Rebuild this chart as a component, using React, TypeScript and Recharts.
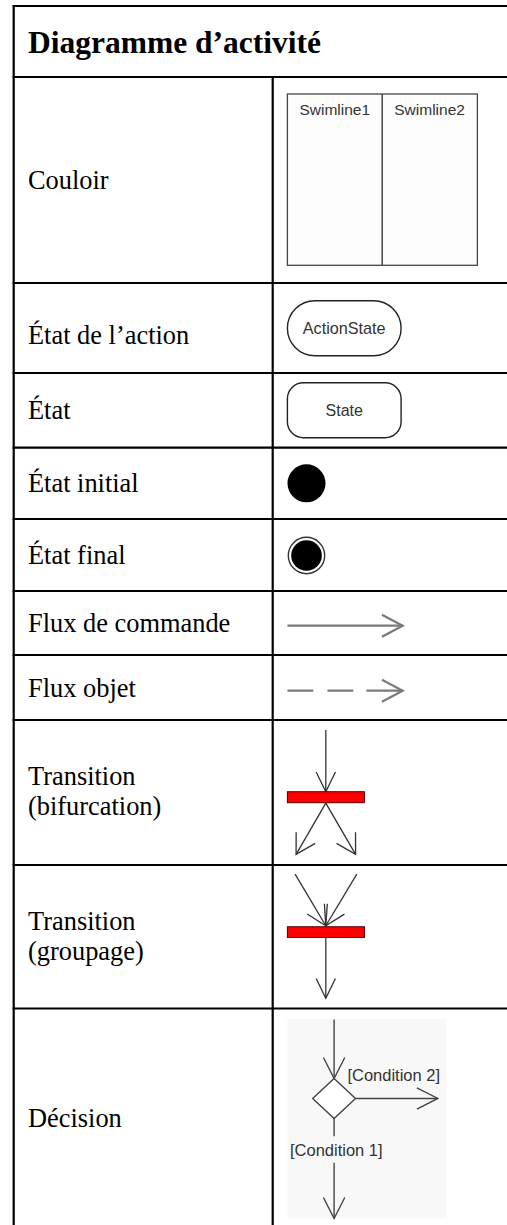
import React from "react";
import { ScatterChart, XAxis, YAxis, Scatter, ReferenceLine } from "recharts";

// ---------- data ----------
const titleText = "Diagramme d’activité";
const rowLabels: string[][] = [
  ["Couloir"],
  ["État de l’action"],
  ["État"],
  ["État initial"],
  ["État final"],
  ["Flux de commande"],
  ["Flux objet"],
  ["Transition", "(bifurcation)"],
  ["Transition", "(groupage)"],
  ["Décision"],
];
const symbolKinds = [
  "swimlane",
  "actionState",
  "state",
  "initial",
  "final",
  "controlFlow",
  "objectFlow",
  "fork",
  "join",
  "decision",
];
const swimlaneNames = ["Swimline1", "Swimline2"];
const actionStateLabel = "ActionState";
const stateLabel = "State";
const decisionLabels = ["[Condition 1]", "[Condition 2]"];

// ---------- layout ----------
const W = 507;
const H = 1225;
const TABLE_LEFT = 13.7;
const TABLE_TOP = 6;
const HEADER_BOTTOM = 77;
const COL_X = 272.7;
const ROW_EDGES = [77, 283, 373, 447.7, 519, 591, 655, 720, 865, 1008.5, 1225];
const TEXT_X = 28;
const SYMBOL_X = 287.4;
const LABEL_SHIFT = [8.5, 16, 8.5, 8.5, 8.5, 8.5, 9, 7.5, 8.3, 10];
const LINE_GAP = 30;
const SERIF = "'Liberation Serif', 'Times New Roman', serif";
const SANS = "'Liberation Sans', Arial, sans-serif";

const rowCenters = rowLabels.map((_, i) => (ROW_EDGES[i] + ROW_EDGES[i + 1]) / 2);

const titleData = [{ x: TEXT_X, y: (TABLE_TOP + HEADER_BOTTOM) / 2 + 11.2, text: titleText }];
const labelData = rowLabels.map((lines, i) => ({ x: TEXT_X, y: rowCenters[i], lines, shift: LABEL_SHIFT[i] }));
const symbolData = symbolKinds.map((kind, i) => ({ x: SYMBOL_X, y: rowCenters[i], kind }));

// ---------- helpers ----------
function arrowPath(tx: number, ty: number, fromX: number, fromY: number, len: number, spread: number) {
  const ang = Math.atan2(ty - fromY, tx - fromX) + Math.PI;
  const s = (spread * Math.PI) / 180;
  const a1 = ang + s;
  const a2 = ang - s;
  return `M${tx + len * Math.cos(a1)},${ty + len * Math.sin(a1)} L${tx},${ty} L${tx + len * Math.cos(a2)},${ty + len * Math.sin(a2)}`;
}

const DARK = "#333";
const GRAY = "#7a7a7a";

function renderTitle(props: any) {
  const { cx, cy, payload } = props;
  return (
    <text x={cx} y={cy} fontFamily={SERIF} fontWeight="bold" fontSize={31.5} fill="#000">
      {payload.text}
    </text>
  );
}

function renderLabel(props: any) {
  const { cx, cy, payload } = props;
  const n = payload.lines.length;
  return (
    <g>
      {payload.lines.map((line: string, j: number) => (
        <text
          key={j}
          x={cx}
          y={cy + payload.shift + (j - (n - 1) / 2) * LINE_GAP}
          fontFamily={SERIF}
          fontSize={26.4}
          fill="#000"
        >
          {line}
        </text>
      ))}
    </g>
  );
}

function renderSymbol(props: any) {
  const { cx, cy, payload } = props;
  const kind = payload.kind;
  if (kind === "swimlane") {
    const top = cy - 86;
    const w = 190;
    const h = 171.3;
    return (
      <g>
        <rect x={cx} y={top} width={w} height={h} fill="#fdfdfd" stroke="#444" strokeWidth={1.3} />
        <line x1={cx + 94.8} y1={top} x2={cx + 94.8} y2={top + h} stroke="#444" strokeWidth={1.5} />
        {swimlaneNames.map((name, j) => (
          <text
            key={j}
            x={cx + 47.4 + j * 94.8}
            y={cy - 65}
            textAnchor="middle"
            fontFamily={SANS}
            fontSize={15.5}
            fill={DARK}
          >
            {name}
          </text>
        ))}
      </g>
    );
  }
  if (kind === "actionState" || kind === "state") {
    const isAction = kind === "actionState";
    const top = isAction ? cy - 27.3 : cy - 27.6;
    return (
      <g>
        <rect
          x={cx}
          y={top}
          width={113.7}
          height={55}
          rx={isAction ? 27.5 : 16}
          ry={isAction ? 27.5 : 16}
          fill="#fff"
          stroke="#222"
          strokeWidth={1.4}
        />
        <text
          x={cx + 56.8}
          y={top + 27.5 + 5.3}
          textAnchor="middle"
          fontFamily={SANS}
          fontSize={isAction ? 16.2 : 16}
          fill={DARK}
        >
          {isAction ? actionStateLabel : stateLabel}
        </text>
      </g>
    );
  }
  if (kind === "initial") {
    return <circle cx={cx + 19.1} cy={cy} r={19} fill="#000" />;
  }
  if (kind === "final") {
    return (
      <g>
        <circle cx={cx + 19.1} cy={cy + 0.5} r={18.2} fill="#fff" stroke="#333" strokeWidth={1.4} />
        <circle cx={cx + 19.1} cy={cy + 0.5} r={15.3} fill="#000" />
      </g>
    );
  }
  if (kind === "controlFlow" || kind === "objectFlow") {
    const y = kind === "controlFlow" ? cy + 2.7 : cy + 3.2;
    const tip = cx + 115.3;
    return (
      <g fill="none" stroke={GRAY} strokeWidth={2.2}>
        {kind === "controlFlow" ? (
          <line x1={cx} y1={y} x2={tip} y2={y} />
        ) : (
          <g>
            <line x1={cx} y1={y} x2={cx + 66} y2={y} strokeDasharray="26 14" />
            <line x1={cx + 79} y1={y} x2={tip} y2={y} />
          </g>
        )}
        <path d={arrowPath(tip, y, cx, y, 23.5, 28)} />
      </g>
    );
  }
  if (kind === "fork") {
    const mx = cx + 38.4;
    const barTop = cy - 0.8;
    const inTop = cy - 62.5;
    const inTip = barTop;
    const outStart = barTop + 11.5;
    const lt = { x: cx + 8.7, y: cy + 61.8 };
    const rt = { x: cx + 68.2, y: cy + 61.8 };
    return (
      <g fill="none" stroke={DARK} strokeWidth={1.3}>
        <line x1={mx} y1={inTop} x2={mx} y2={inTip} />
        <path d={arrowPath(mx, inTip, mx, inTop, 22, 26)} />
        <line x1={mx} y1={outStart} x2={lt.x} y2={lt.y} />
        <line x1={mx} y1={outStart} x2={rt.x} y2={rt.y} />
        <path d={arrowPath(lt.x, lt.y, mx, outStart, 22, 30)} />
        <path d={arrowPath(rt.x, rt.y, mx, outStart, 22, 30)} />
        <rect x={cx} y={barTop} width={77} height={11} fill="#ff0000" stroke="#500" strokeWidth={1} />
      </g>
    );
  }
  if (kind === "join") {
    const mx = cx + 38.4;
    const barTop = cy - 10;
    const tipY = barTop - 1;
    const l0 = { x: cx + 7.7, y: cy - 62.7 };
    const r0 = { x: cx + 69.4, y: cy - 62.7 };
    const outTip = cy + 61.5;
    return (
      <g fill="none" stroke={DARK} strokeWidth={1.3}>
        <line x1={l0.x} y1={l0.y} x2={mx} y2={tipY} />
        <line x1={r0.x} y1={r0.y} x2={mx} y2={tipY} />
        <path d={arrowPath(mx, tipY, l0.x, l0.y, 22, 27)} />
        <path d={arrowPath(mx, tipY, r0.x, r0.y, 22, 27)} />
        <line x1={mx} y1={barTop + 11} x2={mx} y2={outTip} />
        <path d={arrowPath(mx, outTip, mx, barTop + 11, 22, 26)} />
        <rect x={cx} y={barTop} width={77} height={10.7} fill="#ff0000" stroke="#500" strokeWidth={1} />
      </g>
    );
  }
  if (kind === "decision") {
    const mx = cx + 46.7;
    const dcy = cy - 18.3;
    const hw = 21.4;
    const hh = 20;
    const inTop = cy - 97.3;
    const rightTip = cx + 150.4;
    const bottomTip = cy + 101.7;
    return (
      <g>
        <rect x={cx} y={cy - 97.6} width={159.4} height={199.3} fill="#f8f8f8" />
        <g fill="none" stroke="#444" strokeWidth={1.4}>
          <line x1={mx} y1={inTop} x2={mx} y2={dcy - hh} />
          <path d={arrowPath(mx, dcy - hh, mx, inTop, 23.5, 27)} />
          <line x1={mx + hw} y1={dcy} x2={rightTip} y2={dcy} />
          <path d={arrowPath(rightTip, dcy, mx + hw, dcy, 23.5, 27)} />
          <line x1={mx} y1={dcy + hh} x2={mx} y2={cy + 19.4} />
          <line x1={mx} y1={cy + 46.1} x2={mx} y2={bottomTip} />
          <path d={arrowPath(mx, bottomTip, mx, cy + 46.1, 23.5, 27)} />
        </g>
        <path
          d={`M${mx},${dcy - hh} L${mx + hw},${dcy} L${mx},${dcy + hh} L${mx - hw},${dcy} Z`}
          fill="#fff"
          stroke="#444"
          strokeWidth={1.4}
        />
        <text x={cx + 60} y={cy - 35.6} fontFamily={SANS} fontSize={16.5} fill={DARK}>
          {decisionLabels[1]}
        </text>
        <text x={cx + 48.9} y={cy + 39.1} textAnchor="middle" fontFamily={SANS} fontSize={16.5} fill={DARK}>
          {decisionLabels[0]}
        </text>
      </g>
    );
  }
  return <g />;
}

export default function App() {
  const hLines = [TABLE_TOP, ...ROW_EDGES.slice(0, -1)];
  return (
    <div style={{ position: "absolute", left: 0, top: 0, width: W, height: H, background: "#fff" }}>
      <ScatterChart width={W} height={H} margin={{ top: 0, right: 0, bottom: 0, left: 0 }}>
        <XAxis type="number" dataKey="x" domain={[0, W]} hide allowDataOverflow />
        <YAxis type="number" dataKey="y" domain={[0, H]} reversed hide allowDataOverflow />
        {hLines.map((y, i) => (
          <ReferenceLine
            key={`h${i}`}
            segment={[
              { x: TABLE_LEFT - 1, y },
              { x: W, y },
            ]}
            stroke="#000"
            strokeWidth={2.2}
            ifOverflow="visible"
          />
        ))}
        <ReferenceLine
          segment={[
            { x: TABLE_LEFT, y: TABLE_TOP - 1 },
            { x: TABLE_LEFT, y: H },
          ]}
          stroke="#000"
          strokeWidth={2.2}
          ifOverflow="visible"
        />
        <ReferenceLine
          segment={[
            { x: COL_X, y: HEADER_BOTTOM },
            { x: COL_X, y: H },
          ]}
          stroke="#000"
          strokeWidth={2.2}
          ifOverflow="visible"
        />
        <Scatter data={titleData} shape={renderTitle} isAnimationActive={false} />
        <Scatter data={labelData} shape={renderLabel} isAnimationActive={false} />
        <Scatter data={symbolData} shape={renderSymbol} isAnimationActive={false} />
      </ScatterChart>
    </div>
  );
}
